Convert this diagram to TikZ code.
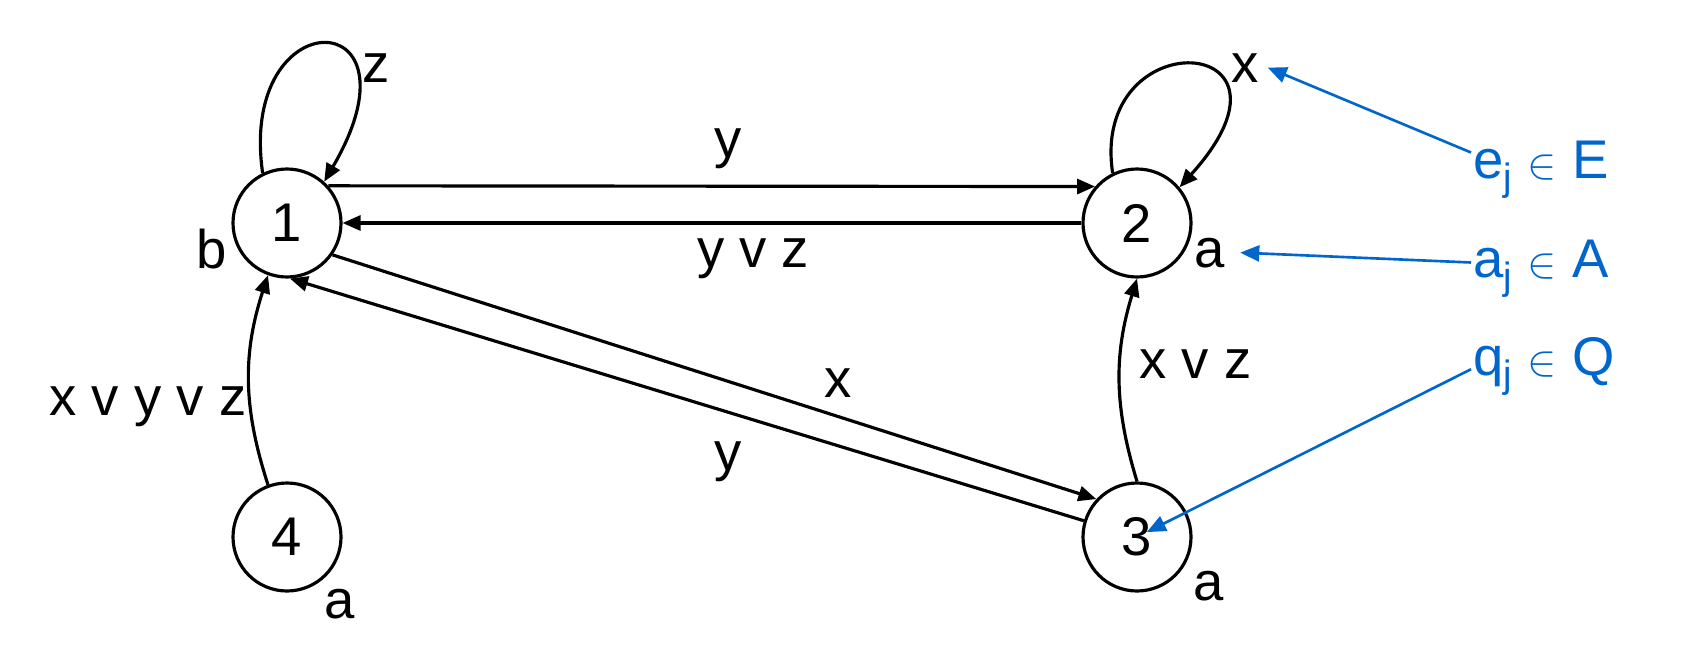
\documentclass[tikz,border=0pt]{standalone}
\usepackage{fontspec}
\setmainfont{Liberation Sans}
\usetikzlibrary{arrows.meta}
\definecolor{qblue}{RGB}{0,102,204}

\begin{document}
\begin{tikzpicture}[st/.style={draw,circle,line width=1.8pt,minimum size=2.16cm,inner sep=0pt},
  lb/.style={anchor=base,inner sep=1pt},
  tr/.style={line width=1.8pt,-{Triangle[length=0.36cm,width=0.3cm]}},
  bl/.style={qblue,line width=1.5pt,-{Triangle[length=0.38cm,width=0.32cm]}},
  font=\fontsize{31}{37}\selectfont]
\useasboundingbox (0,0) rectangle (33.64,13.18);
% states
\node[st] (n1) at (5.74,8.72) {1};
\node[st] (n2) at (22.74,8.72) {2};
\node[st] (n3) at (22.74,2.44) {3};
\node[st] (n4) at (5.74,2.44) {4};
% outputs
\node[lb] (lb1) at (4.23,7.82) {b};
\node[lb] (la2) at (24.2,7.84) {a};
\node[lb] (la3) at (24.18,1.18) {a};
\node[lb] (la4) at (6.80,0.82) {a};
% transitions
\draw[tr] (n1.116) .. controls +(-0.5,3.5) and +(2.1,3.6) .. (n1.48);
\node[lb] (lz) at (7.52,11.54) {z};
\draw[tr] (n2.116) .. controls +(-0.46,3.07) and +(2.8,3.1) .. (n2.40);
\node[lb] (lx) at (24.9,11.54) {x};
\draw[tr] (n1.42) -- (n2.139);
\node[lb] (ly1) at (14.56,10.04) {y};
\draw[tr] (n2.west) -- (n1.east);
\node[lb] (lyz) at (15.06,7.84) {y v z};
\draw[tr] (n1.325) -- (n3.137);
\node[lb] (lx1) at (16.76,5.24) {x};
\draw[tr] (n3.163) -- (n1.273);
\node[lb] (ly2) at (14.56,3.78) {y};
\draw[tr] (n3.north) to[bend left=17] (n2.south);
\node[lb] (lxz) at (23.91,5.62) {x v z};
\draw[tr] (n4.110) to[bend left=18] (n1.250);
\node[lb] (lxyz) at (2.96,4.88) {x v y v z};
% legend
\node[lb,anchor=base west,text=qblue] (ej) at (29.42,9.62) {e\textsubscript{j} $\in$ E};
\node[lb,anchor=base west,text=qblue] (aj) at (29.42,7.64) {a\textsubscript{j} $\in$ A};
\node[lb,anchor=base west,text=qblue] (qj) at (29.42,5.68) {q\textsubscript{j} $\in$ Q};
\draw[bl] ([yshift=0.34cm]ej.west) -- ([xshift=0.14cm]lx.east);
\draw[bl] ([yshift=0.12cm]aj.west) -- ([xshift=0.26cm]la2.east);
\draw[bl,shorten >=0.22cm] ([yshift=-0.06cm]qj.west) -- (n3.center);
\end{tikzpicture}
\end{document}
